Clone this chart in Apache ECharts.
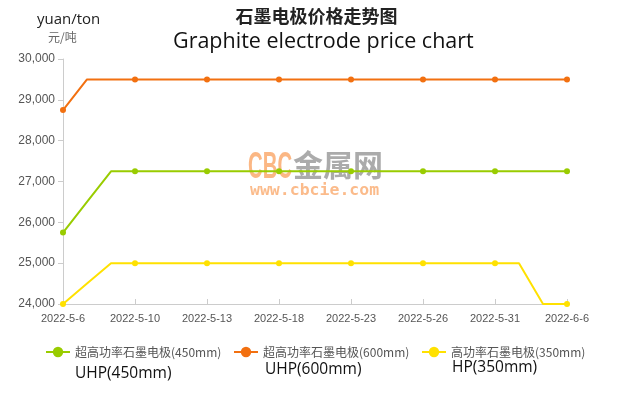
<!DOCTYPE html>
<html>
<head>
<meta charset="utf-8">
<script src="https://cdn.jsdelivr.net/npm/echarts@6/dist/echarts.min.js"></script>
<style>
  html, body { margin: 0; padding: 0; background: #fff; }
  #main { width: 633px; height: 398px; }
</style>
</head>
<body>
<div id="main"></div>
<script>
// trading days, labels show every 3rd one
var dates = ['2022-5-6', '2022-5-7', '2022-5-9', '2022-5-10', '2022-5-11', '2022-5-12', '2022-5-13',
  '2022-5-16', '2022-5-17', '2022-5-18', '2022-5-19', '2022-5-20', '2022-5-23', '2022-5-24',
  '2022-5-25', '2022-5-26', '2022-5-27', '2022-5-30', '2022-5-31', '2022-6-1', '2022-6-2', '2022-6-6'];

var uhp450 = [25750, 26500, 27250, 27250, 27250, 27250, 27250, 27250, 27250, 27250, 27250,
  27250, 27250, 27250, 27250, 27250, 27250, 27250, 27250, 27250, 27250, 27250];
var uhp600 = [28750, 29500, 29500, 29500, 29500, 29500, 29500, 29500, 29500, 29500, 29500,
  29500, 29500, 29500, 29500, 29500, 29500, 29500, 29500, 29500, 29500, 29500];
var hp350 = [24000, 24500, 25000, 25000, 25000, 25000, 25000, 25000, 25000, 25000, 25000,
  25000, 25000, 25000, 25000, 25000, 25000, 25000, 25000, 25000, 24000, 24000];

var seriesNames = ['超高功率石墨电极(450mm)', '超高功率石墨电极(600mm)', '高功率石墨电极(350mm)'];
var seriesEn = ['UHP(450mm)', 'UHP(600mm)', 'HP(350mm)'];
var colors = ['#99cc00', '#f27010', '#ffe100'];

var chart = echarts.init(document.getElementById('main'));

function lineSeries(name, data, color) {
  return {
    name: name,
    type: 'line',
    data: data,
    smooth: false,
    symbol: 'circle',
    symbolSize: 6,
    showAllSymbol: false,
    itemStyle: { color: color },
    lineStyle: { color: color, width: 2 }
  };
}

function legendAt(i, left) {
  return {
    data: [seriesNames[i]],
    left: left,
    top: 341,
    itemWidth: 24,
    itemHeight: 13,
    textStyle: { fontSize: 12, color: '#555', fontFamily: 'Noto Sans CJK SC' }
  };
}

var option = {
  animation: false,
  color: colors,
  title: [{
    text: '石墨电极价格走势图',
    left: 'center',
    top: 2,
    textStyle: { fontSize: 18, fontWeight: 'bold', color: '#222', fontFamily: 'Noto Sans CJK SC' }
  }, {
    text: 'Graphite electrode price chart',
    left: 168,
    top: 26,
    textStyle: { fontSize: 21.5, fontWeight: 'normal', color: '#111', fontFamily: 'Open Sans' }
  }],
  legend: [legendAt(0, 40), legendAt(1, 228), legendAt(2, 416)],
  grid: { left: 63, right: 66, top: 59, bottom: 94 },
  xAxis: {
    type: 'category',
    boundaryGap: false,
    data: dates,
    axisLine: { lineStyle: { color: '#ccc' } },
    axisTick: { inside: true, length: 5, interval: 2, lineStyle: { color: '#ccc' } },
    axisLabel: { interval: 2, color: '#555', fontSize: 11, margin: 9 }
  },
  yAxis: {
    type: 'value',
    min: 24000,
    max: 30000,
    interval: 1000,
    axisLine: { show: true, lineStyle: { color: '#ccc' } },
    axisTick: { show: true, length: 5, lineStyle: { color: '#ccc' } },
    splitLine: { show: false },
    axisLabel: { color: '#555', fontSize: 12, margin: 8 }
  },
  graphic: [
    { type: 'text', left: 37, top: 12, style: { text: 'yuan/ton', fontSize: 15, fill: '#222', fontFamily: 'Open Sans' } },
    { type: 'text', left: 48, top: 31, style: { text: '元/吨', fontSize: 12, fill: '#666', fontFamily: 'Noto Sans CJK SC' } },
    { type: 'text', left: 75, top: 366, style: { text: seriesEn[0], fontSize: 15.5, fill: '#111', fontFamily: 'Open Sans' } },
    { type: 'text', left: 265, top: 362, style: { text: seriesEn[1], fontSize: 15.5, fill: '#111', fontFamily: 'Open Sans' } },
    { type: 'text', left: 452, top: 360, style: { text: seriesEn[2], fontSize: 15.5, fill: '#111', fontFamily: 'Open Sans' } },
    // watermark
    { type: 'text', x: 248, y: 149, scaleX: 0.55, z: 0, style: { text: 'CBC', fontSize: 37, fontWeight: 'bold', fill: 'rgba(250,170,110,0.85)', fontFamily: 'Liberation Sans' } },
    { type: 'text', left: 293, top: 150, z: 0, style: { text: '金属网', fontSize: 30, fontWeight: 'bold', fill: 'rgba(150,150,150,0.8)', fontFamily: 'Noto Sans CJK SC' } },
    { type: 'text', left: 250, top: 182, z: 0, style: { text: 'www.cbcie.com', fontSize: 16.5, fontWeight: 'bold', fill: 'rgba(250,170,110,0.8)', fontFamily: 'DejaVu Sans Mono' } }
  ],
  series: [
    lineSeries(seriesNames[0], uhp450, colors[0]),
    lineSeries(seriesNames[1], uhp600, colors[1]),
    lineSeries(seriesNames[2], hp350, colors[2])
  ]
};

chart.setOption(option);
</script>
</body>
</html>
